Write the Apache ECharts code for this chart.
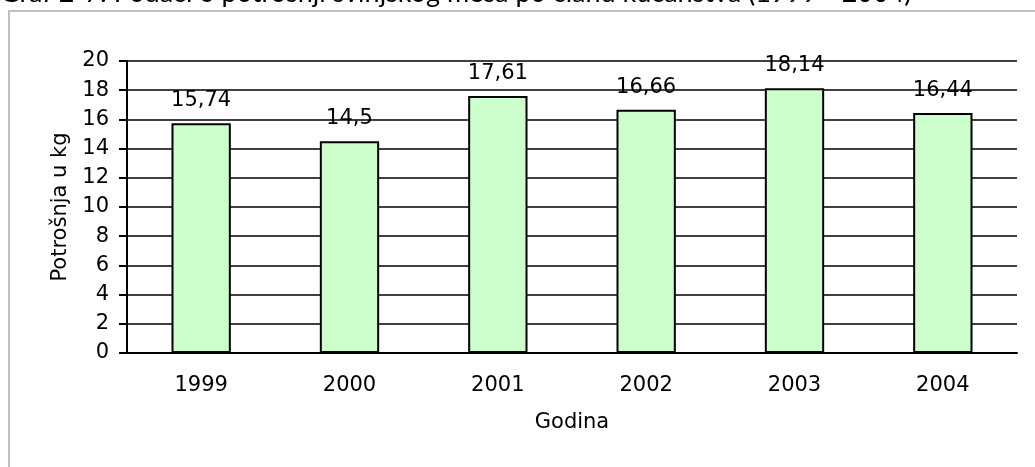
<!DOCTYPE html>
<html>
<head>
<meta charset="utf-8">
<script src="https://cdn.jsdelivr.net/npm/echarts@6/dist/echarts.min.js"></script>
<style>
html, body { margin: 0; padding: 0; background: #fff; }
#chart { width: 1035px; height: 467px; }
</style>
</head>
<body>
<div id="chart"></div>
<script>
var godine = ['1999', '2000', '2001', '2002', '2003', '2004'];
var potrosnja = [15.74, 14.5, 17.61, 16.66, 18.14, 16.44];
var naslov = 'Graf 2-7: Podaci o potrošnji svinjskog mesa po članu kućanstva (1999 - 2004)';

var chart = echarts.init(document.getElementById('chart'));

var option = {
    animation: false,
    textStyle: { fontFamily: 'DejaVu Sans' },
    graphic: [
        {
            type: 'rect',
            shape: { x: 9, y: 11, width: 1100, height: 500 },
            style: { fill: 'none', stroke: '#c0c0c0', lineWidth: 2 },
            silent: true
        },
        {
            type: 'text',
            x: 0,
            y: -7,
            style: {
                text: naslov,
                font: '27px Lato',
                fill: '#000',
                verticalAlign: 'middle'
            },
            silent: true
        }
    ],
    grid: { left: 127, top: 61, right: 18, bottom: 114, outerBoundsMode: 'none' },
    xAxis: {
        type: 'category',
        data: godine,
        name: 'Godina',
        nameLocation: 'middle',
        nameGap: 59,
        nameTextStyle: { fontSize: 21, color: '#000', fontFamily: 'DejaVu Sans' },
        axisLine: { lineStyle: { color: '#000', width: 2 } },
        axisTick: { length: 6, lineStyle: { color: '#000', width: 2 } },
        axisLabel: { fontSize: 21, color: '#000', margin: 22 }
    },
    yAxis: {
        type: 'value',
        min: 0,
        max: 20,
        interval: 2,
        name: 'Potrošnja u kg',
        nameLocation: 'middle',
        nameGap: 54,
        nameTextStyle: { fontSize: 21, color: '#000', fontFamily: 'DejaVu Sans' },
        axisLine: { show: true, lineStyle: { color: '#000', width: 2 } },
        axisTick: { show: true, length: 8, lineStyle: { color: '#000', width: 2 } },
        axisLabel: { fontSize: 21, color: '#000', margin: 18 },
        splitLine: { lineStyle: { color: '#000', width: 1.5 } }
    },
    series: [{
        type: 'bar',
        data: potrosnja,
        barWidth: '40%',
        itemStyle: { color: '#ccffcc', borderColor: '#000', borderWidth: 2 },
        label: {
            show: true,
            position: 'top',
            distance: 12,
            fontSize: 21,
            color: '#000',
            formatter: function (p) { return String(p.value).replace('.', ','); }
        }
    }]
};

chart.setOption(option);
</script>
</body>
</html>
